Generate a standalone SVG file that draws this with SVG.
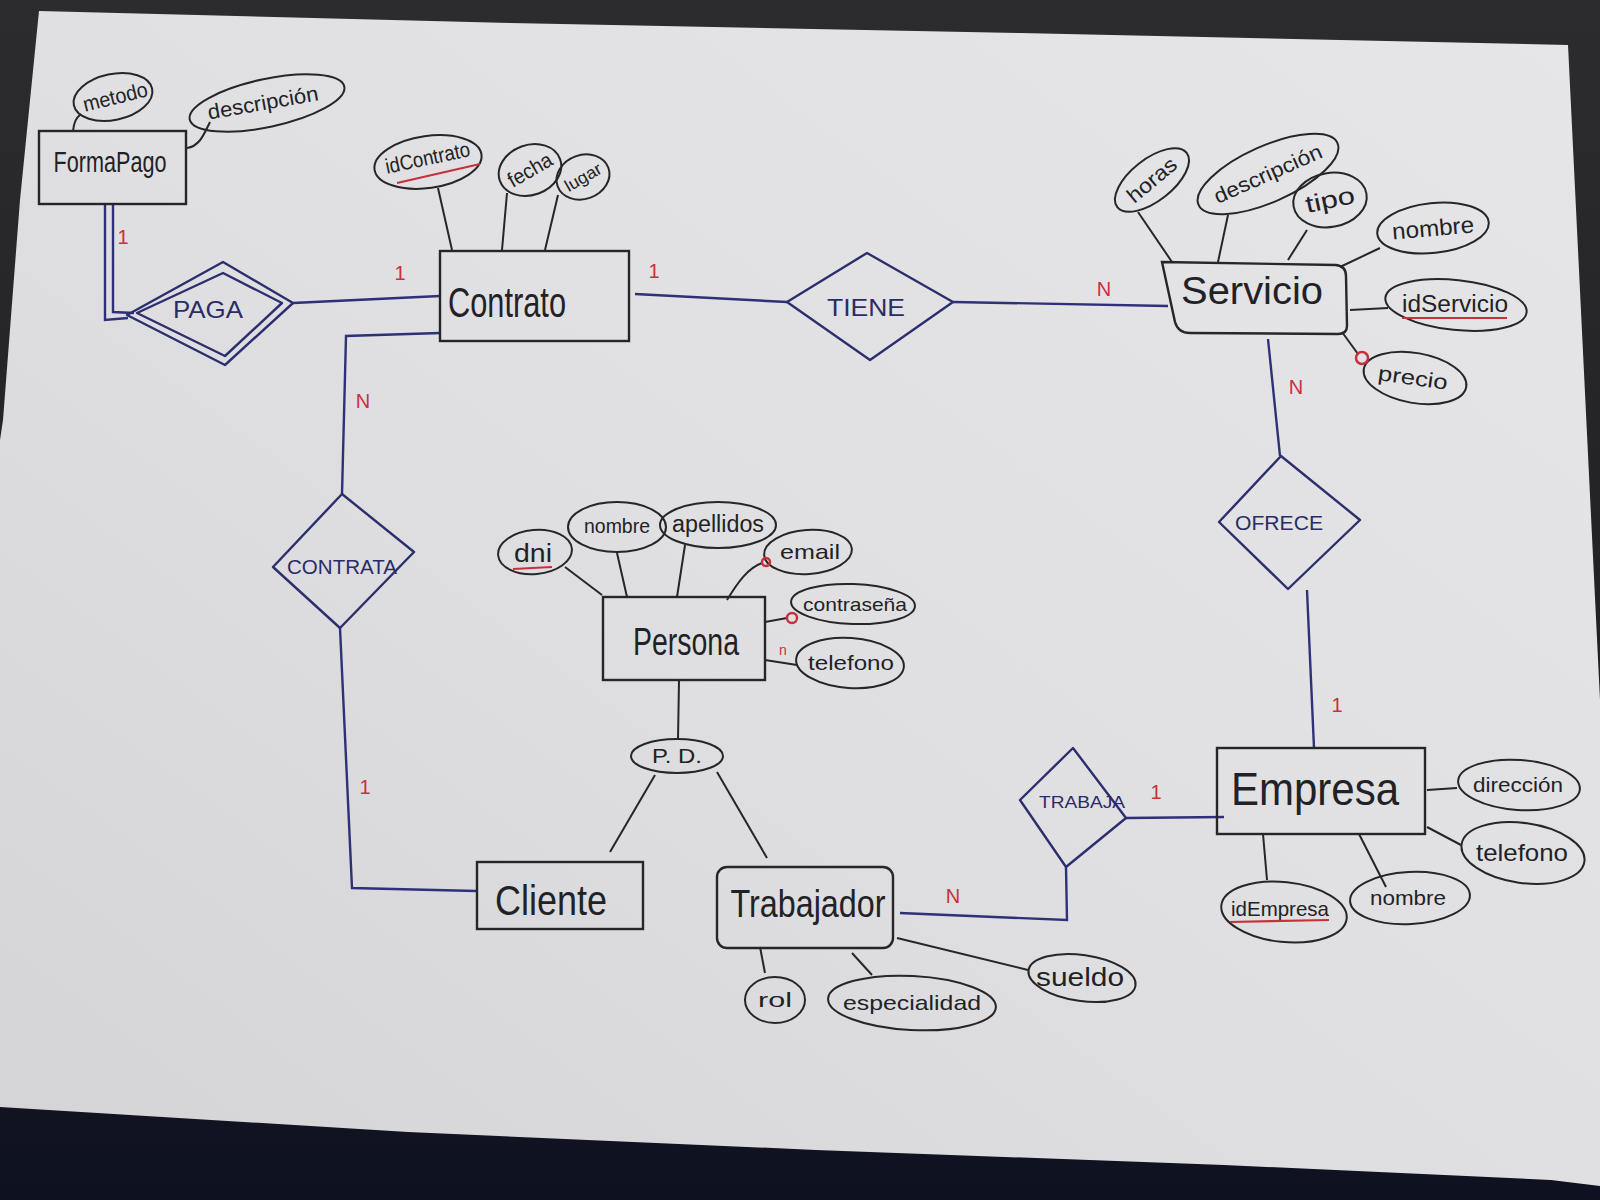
<svg xmlns="http://www.w3.org/2000/svg" width="1600" height="1200" viewBox="0 0 1600 1200">
<defs>
<linearGradient id="bg" x1="0" y1="0" x2="0" y2="1">
<stop offset="0" stop-color="#2c2c2e"/><stop offset="0.5" stop-color="#222226"/><stop offset="1" stop-color="#0e1120"/>
</linearGradient>
<linearGradient id="paper" x1="1" y1="0" x2="0" y2="1">
<stop offset="0" stop-color="#e6e6e8"/><stop offset="0.5" stop-color="#e0e0e2"/><stop offset="1" stop-color="#d4d4d6"/>
</linearGradient>
</defs>
<style>
.ent{fill:none;stroke:#26262a;stroke-width:2.4}
.rel{fill:none;stroke:#2c2e6e;stroke-width:2.4;stroke-linejoin:round}
.attr{fill:none;stroke:#26262a;stroke-width:2}
.ln{fill:none;stroke:#26262a;stroke-width:2}
.bl{fill:none;stroke:#2e3078;stroke-width:2.4}
.key{fill:none;stroke:#c8303a;stroke-width:2.2}
.dot{fill:none;stroke:#c8303a;stroke-width:2.5}
.t{font-family:"Liberation Sans",Arial,sans-serif;fill:#222226;text-anchor:middle}
.at{font-size:21px}
.rt{font-family:"Liberation Sans",Arial,sans-serif;fill:#2a2c66;text-anchor:middle}
.card{font-family:"Liberation Sans",Arial,sans-serif;fill:#c8303a;font-size:20px;text-anchor:middle}
.small{font-size:14px}
</style>
<rect x="0" y="0" width="1600" height="1200" fill="url(#bg)"/>
<path d="M39,11 L510,23 L1020,33 L1568,45 L1600,700 L1600,1186 L1551,1180 L1224,1165 L816,1150 L408,1132 L0,1107 L0,440 L3,420 L20,200 Z" fill="url(#paper)"/>

<g id="connectors">
  <path class="bl" d="M105,204 L105,320 L128,318"/>
  <path class="bl" d="M113,204 L113,312 L134,313"/>
  <path class="bl" d="M293,303 L440,296"/>
  <path class="bl" d="M440,333 L346,336 L342,494"/>
  <path class="bl" d="M340,628 L352,888 L476,891"/>
  <path class="bl" d="M635,294 L787,302"/>
  <path class="bl" d="M953,302 L1168,306"/>
  <path class="bl" d="M1268,339 L1280,456"/>
  <path class="bl" d="M1307,590 L1314,748"/>
  <path class="bl" d="M1126,818 L1224,817"/>
  <path class="bl" d="M1066,867 L1067,920 L900,913"/>
  <path class="ln" d="M679,681 L678,739"/>
  <path class="ln" d="M655,775 L610,852"/>
  <path class="ln" d="M717,772 L767,858"/>
  <path class="ln" d="M73,131 C74,122 76,118 81,114"/>
  <path class="ln" d="M187,148 C200,146 204,134 210,122"/>
  <path class="ln" d="M438,188 L452,250"/>
  <path class="ln" d="M507,193 L502,250"/>
  <path class="ln" d="M558,195 L545,250"/>
  <path class="ln" d="M1138,212 L1172,262"/>
  <path class="ln" d="M1228,215 L1218,262"/>
  <path class="ln" d="M1307,230 L1288,260"/>
  <path class="ln" d="M1380,248 L1340,267"/>
  <path class="ln" d="M1350,310 L1388,308"/>
  <path class="ln" d="M1342,332 L1358,354"/>
  <path class="ln" d="M565,567 L602,595"/>
  <path class="ln" d="M617,553 L627,597"/>
  <path class="ln" d="M685,545 L677,597"/>
  <path class="ln" d="M727,600 C738,582 748,568 762,563"/>
  <path class="ln" d="M765,622 L787,618"/>
  <path class="ln" d="M765,660 L797,665"/>
  <path class="ln" d="M1427,790 L1457,788"/>
  <path class="ln" d="M1427,827 L1461,845"/>
  <path class="ln" d="M1263,834 L1267,880"/>
  <path class="ln" d="M1359,834 L1386,887"/>
  <path class="ln" d="M760,947 L765,973"/>
  <path class="ln" d="M852,953 L872,975"/>
  <path class="ln" d="M897,938 L1028,970"/>
  <text class="card" x="123" y="244">1</text>
  <text class="card" x="400" y="280">1</text>
  <text class="card" x="654" y="278">1</text>
  <text class="card" x="1104" y="296">N</text>
  <text class="card" x="363" y="408">N</text>
  <text class="card" x="365" y="794">1</text>
  <text class="card" x="1296" y="394">N</text>
  <text class="card" x="1337" y="712">1</text>
  <text class="card" x="1156" y="799">1</text>
  <text class="card" x="953" y="903">N</text>
</g>

<g id="FormaPago">
  <rect class="ent" x="39" y="131" width="147" height="73"/>
  <text class="t" x="110" y="172" font-size="30" textLength="113" lengthAdjust="spacingAndGlyphs">FormaPago</text>
</g>
<g id="attr-metodo">
  <ellipse class="attr" cx="113" cy="97" rx="40" ry="23" transform="rotate(-12 113 97)"/>
  <text class="t at" x="116" y="104" textLength="66" lengthAdjust="spacingAndGlyphs" transform="rotate(-14 116 100)">metodo</text>
</g>
<g id="attr-descripcion-fp">
  <ellipse class="attr" cx="267" cy="103" rx="79" ry="24" transform="rotate(-12 267 103)"/>
  <text class="t at" x="263" y="110" textLength="112" lengthAdjust="spacingAndGlyphs" transform="rotate(-10 263 103)">descripción</text>
</g>

<g id="PAGA">
  <polygon class="rel" points="127,315 223,262 293,303 225,365"/>
  <polygon class="rel" points="137,313 223,273 282,303 225,356"/>
  <text class="rt" x="208" y="318" font-size="24" textLength="70" lengthAdjust="spacingAndGlyphs">PAGA</text>
</g>

<g id="Contrato">
  <rect class="ent" x="440" y="251" width="189" height="90"/>
  <text class="t" x="507" y="317" font-size="42" textLength="118" lengthAdjust="spacingAndGlyphs">Contrato</text>
</g>
<g id="attr-idContrato">
  <ellipse class="attr" cx="428" cy="162" rx="54" ry="26" transform="rotate(-8 428 162)"/>
  <text class="t at" x="428" y="165" textLength="86" lengthAdjust="spacingAndGlyphs" transform="rotate(-12 428 160)">idContrato</text>
  <path class="key" d="M397,183 L480,164"/>
</g>
<g id="attr-fecha">
  <ellipse class="attr" cx="530" cy="170" rx="32" ry="25" transform="rotate(-20 530 170)"/>
  <text class="t at" x="530" y="177" textLength="48" lengthAdjust="spacingAndGlyphs" transform="rotate(-30 530 170)">fecha</text>
</g>
<g id="attr-lugar">
  <ellipse class="attr" cx="583" cy="177" rx="27" ry="22" transform="rotate(-20 583 177)"/>
  <text class="t" x="583" y="183" font-size="17" textLength="40" lengthAdjust="spacingAndGlyphs" transform="rotate(-30 583 177)">lugar</text>
</g>

<g id="TIENE">
  <polygon class="rel" points="787,302 867,253 953,302 870,360"/>
  <text class="rt" x="866" y="316" font-size="24" textLength="78" lengthAdjust="spacingAndGlyphs">TIENE</text>
</g>

<g id="Servicio">
  <path class="ent" d="M1162,262 L1336,265 Q1346,266 1346,276 L1347,326 Q1347,334 1338,334 L1190,333 Q1178,333 1175,322 Z"/>
  <text class="t" x="1252" y="304" font-size="38" textLength="142" lengthAdjust="spacingAndGlyphs">Servicio</text>
</g>
<g id="attr-horas">
  <ellipse class="attr" cx="1152" cy="180" rx="44" ry="21" transform="rotate(-38 1152 180)"/>
  <text class="t at" x="1152" y="187" textLength="58" lengthAdjust="spacingAndGlyphs" transform="rotate(-40 1152 180)">horas</text>
</g>
<g id="attr-descripcion-s">
  <ellipse class="attr" cx="1268" cy="174" rx="76" ry="28" transform="rotate(-24 1268 174)"/>
  <text class="t at" x="1268" y="181" textLength="116" lengthAdjust="spacingAndGlyphs" transform="rotate(-24 1268 174)">descripción</text>
</g>
<g id="attr-tipo">
  <ellipse class="attr" cx="1330" cy="200" rx="37" ry="27" transform="rotate(-10 1330 200)"/>
  <text class="t" x="1330" y="208" font-size="24" textLength="50" lengthAdjust="spacingAndGlyphs" transform="rotate(-12 1330 200)">tipo</text>
</g>
<g id="attr-nombre-s">
  <ellipse class="attr" cx="1433" cy="228" rx="56" ry="25" transform="rotate(-6 1433 228)"/>
  <text class="t" x="1433" y="236" font-size="23" textLength="82" lengthAdjust="spacingAndGlyphs" transform="rotate(-5 1433 228)">nombre</text>
</g>
<g id="attr-idServicio">
  <ellipse class="attr" cx="1456" cy="305" rx="71" ry="25" transform="rotate(6 1456 305)"/>
  <text class="t" x="1455" y="312" font-size="23" textLength="106" lengthAdjust="spacingAndGlyphs">idServicio</text>
  <path class="key" d="M1402,318 L1507,318"/>
</g>
<g id="attr-precio">
  <ellipse class="attr" cx="1415" cy="378" rx="52" ry="25" transform="rotate(10 1415 378)"/>
  <text class="t at" x="1413" y="385" textLength="70" lengthAdjust="spacingAndGlyphs" transform="rotate(8 1413 378)">precio</text>
  <circle class="dot" cx="1362" cy="358" r="6"/>
</g>

<g id="OFRECE">
  <polygon class="rel" points="1281,456 1360,520 1288,589 1219,522"/>
  <text class="rt" x="1279" y="530" font-size="21" textLength="88" lengthAdjust="spacingAndGlyphs">OFRECE</text>
</g>

<g id="CONTRATA">
  <polygon class="rel" points="342,494 414,552 340,628 273,567"/>
  <text class="rt" x="342" y="574" font-size="21" textLength="110" lengthAdjust="spacingAndGlyphs">CONTRATA</text>
</g>

<g id="Persona">
  <rect class="ent" x="603" y="597" width="162" height="83"/>
  <text class="t" x="686" y="655" font-size="38" textLength="106" lengthAdjust="spacingAndGlyphs">Persona</text>
</g>
<g id="attr-dni">
  <ellipse class="attr" cx="535" cy="552" rx="37" ry="22" transform="rotate(-5 535 552)"/>
  <text class="t" x="533" y="562" font-size="25" textLength="38" lengthAdjust="spacingAndGlyphs">dni</text>
  <path class="key" d="M513,569 L552,567"/>
</g>
<g id="attr-nombre-p">
  <ellipse class="attr" cx="617" cy="527" rx="49" ry="25"/>
  <text class="t at" x="617" y="533" textLength="66" lengthAdjust="spacingAndGlyphs">nombre</text>
</g>
<g id="attr-apellidos">
  <ellipse class="attr" cx="718" cy="525" rx="58" ry="23"/>
  <text class="t" x="718" y="532" font-size="23" textLength="92" lengthAdjust="spacingAndGlyphs">apellidos</text>
</g>
<g id="attr-email">
  <ellipse class="attr" cx="808" cy="552" rx="44" ry="22" transform="rotate(-4 808 552)"/>
  <text class="t at" x="810" y="559" textLength="60" lengthAdjust="spacingAndGlyphs">email</text>
  <circle class="dot" cx="766" cy="562" r="4"/>
</g>
<g id="attr-contrasena">
  <ellipse class="attr" cx="853" cy="604" rx="62" ry="20" transform="rotate(2 853 604)"/>
  <text class="t" x="855" y="611" font-size="19" textLength="104" lengthAdjust="spacingAndGlyphs">contraseña</text>
  <circle class="dot" cx="792" cy="618" r="5" fill="#c8303a"/>
</g>
<g id="attr-telefono-p">
  <ellipse class="attr" cx="850" cy="663" rx="54" ry="25" transform="rotate(4 850 663)"/>
  <text class="t at" x="851" y="670" textLength="86" lengthAdjust="spacingAndGlyphs">telefono</text>
  <text class="card small" x="783" y="655">n</text>
</g>

<g id="PD">
  <ellipse class="attr" cx="677" cy="756" rx="46" ry="17"/>
  <text class="t at" x="677" y="763" textLength="50" lengthAdjust="spacingAndGlyphs">P. D.</text>
</g>

<g id="Cliente">
  <rect class="ent" x="477" y="862" width="166" height="67"/>
  <text class="t" x="551" y="915" font-size="42" textLength="112" lengthAdjust="spacingAndGlyphs">Cliente</text>
</g>

<g id="Trabajador">
  <rect class="ent" x="717" y="867" width="176" height="81" rx="10"/>
  <text class="t" x="808" y="917" font-size="38" textLength="155" lengthAdjust="spacingAndGlyphs">Trabajador</text>
</g>
<g id="attr-rol">
  <ellipse class="attr" cx="775" cy="1000" rx="30" ry="23"/>
  <text class="t at" x="775" y="1007" textLength="34" lengthAdjust="spacingAndGlyphs">rol</text>
</g>
<g id="attr-especialidad">
  <ellipse class="attr" cx="912" cy="1003" rx="84" ry="27" transform="rotate(3 912 1003)"/>
  <text class="t at" x="912" y="1010" textLength="138" lengthAdjust="spacingAndGlyphs">especialidad</text>
</g>
<g id="attr-sueldo">
  <ellipse class="attr" cx="1082" cy="978" rx="54" ry="23" transform="rotate(8 1082 978)"/>
  <text class="t" x="1080" y="986" font-size="25" textLength="88" lengthAdjust="spacingAndGlyphs">sueldo</text>
</g>

<g id="TRABAJA">
  <polygon class="rel" points="1073,748 1126,818 1066,867 1020,800"/>
  <text class="rt" x="1082" y="808" font-size="16" textLength="86" lengthAdjust="spacingAndGlyphs">TRABAJA</text>
</g>

<g id="Empresa">
  <rect class="ent" x="1217" y="748" width="208" height="86"/>
  <text class="t" x="1315" y="805" font-size="46" textLength="168" lengthAdjust="spacingAndGlyphs">Empresa</text>
</g>
<g id="attr-direccion">
  <ellipse class="attr" cx="1519" cy="785" rx="61" ry="25" transform="rotate(4 1519 785)"/>
  <text class="t at" x="1518" y="792" textLength="90" lengthAdjust="spacingAndGlyphs">dirección</text>
</g>
<g id="attr-telefono-e">
  <ellipse class="attr" cx="1523" cy="853" rx="62" ry="30" transform="rotate(8 1523 853)"/>
  <text class="t" x="1522" y="861" font-size="24" textLength="92" lengthAdjust="spacingAndGlyphs">telefono</text>
</g>
<g id="attr-idEmpresa">
  <ellipse class="attr" cx="1284" cy="912" rx="63" ry="30" transform="rotate(6 1284 912)"/>
  <text class="t at" x="1280" y="916" textLength="98" lengthAdjust="spacingAndGlyphs">idEmpresa</text>
  <path class="key" d="M1230,922 L1329,920"/>
</g>
<g id="attr-nombre-e">
  <ellipse class="attr" cx="1410" cy="898" rx="60" ry="26" transform="rotate(-3 1410 898)"/>
  <text class="t at" x="1408" y="905" textLength="76" lengthAdjust="spacingAndGlyphs">nombre</text>
</g>
</svg>
